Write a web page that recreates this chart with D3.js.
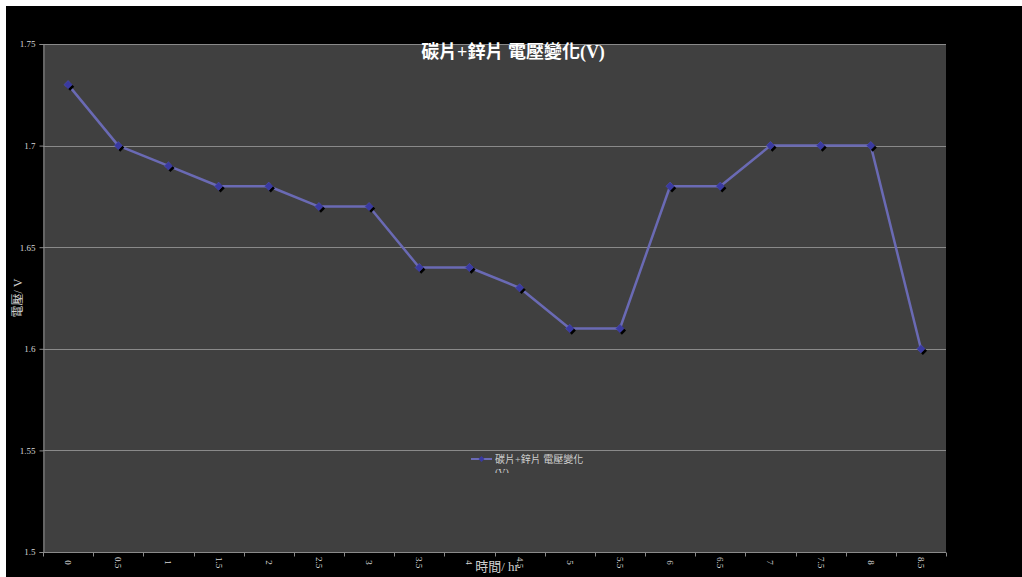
<!DOCTYPE html>
<html>
<head>
<meta charset="utf-8">
<script src="https://cdn.jsdelivr.net/npm/d3@7/dist/d3.min.js"></script>
<style>
  html, body { margin: 0; padding: 0; background: #ffffff; }
  svg { position: absolute; left: 6px; top: 6px; display: block; }
</style>
</head>
<body>
<script>
// Time (hours) and measured voltage of the carbon + zinc cell
const hours = ["0", "0.5", "1", "1.5", "2", "2.5", "3", "3.5", "4", "4.5",
               "5", "5.5", "6", "6.5", "7", "7.5", "8", "8.5"];
const voltage = [1.73, 1.70, 1.69, 1.68, 1.68, 1.67, 1.67, 1.64, 1.64, 1.63,
                 1.61, 1.61, 1.68, 1.68, 1.70, 1.70, 1.70, 1.60];
const yTicks = [1.5, 1.55, 1.6, 1.65, 1.7, 1.75];
const yTickLabels = ["1.5", "1.55", "1.6", "1.65", "1.7", "1.75"];

const titleText = "碳片+鋅片 電壓變化(V)";
const seriesName = "碳片+鋅片 電壓變化";
const seriesNameCont = "(V)";
const xTitle = "時間/ hr";
const yTitle = "電壓/ V";

const W = 1016, H = 571;
const ox = 6, oy = 6; // svg offset on the page
const plot = { left: 43 - ox, right: 946 - ox, top: 44 - oy, bottom: 552 - oy };

const serif = "'Liberation Serif', 'Times New Roman', 'Noto Sans CJK TC', serif";

const svg = d3.select("body").append("svg")
  .attr("width", W).attr("height", H);

svg.append("rect").attr("width", W).attr("height", H).attr("fill", "#000000");

const x = d3.scaleBand().domain(hours).range([plot.left, plot.right]).padding(0);
const y = d3.scaleLinear().domain([1.5, 1.75]).range([plot.bottom, plot.top]);

// plot area
svg.append("rect")
  .attr("x", plot.left).attr("y", plot.top)
  .attr("width", plot.right - plot.left).attr("height", plot.bottom - plot.top)
  .attr("fill", "#404040");

// horizontal gridlines
svg.append("g").selectAll("line").data(yTicks.slice(1)).join("line")
  .attr("x1", plot.left).attr("x2", plot.right)
  .attr("y1", d => Math.round(y(d)) + 0.5).attr("y2", d => Math.round(y(d)) + 0.5)
  .attr("stroke", "#8a8a8a").attr("stroke-width", 1);

// y axis
const yAxis = d3.axisLeft(y).tickValues(yTicks)
  .tickFormat((d, i) => yTickLabels[i]).tickSize(4).tickPadding(4);
const gy = svg.append("g").attr("transform", `translate(${plot.left + 0.5},0)`).call(yAxis);
gy.select(".domain").attr("stroke", "#8a8a8a");
gy.selectAll(".tick line").attr("stroke", "#8a8a8a");
gy.selectAll(".tick text").attr("fill", "#d8d8d8")
  .style("font-family", serif).style("font-size", "9px");

// x axis: ticks on band boundaries, labels rotated at band centres
const gx = svg.append("g").attr("transform", `translate(0,${plot.bottom + 0.5})`);
gx.append("line").attr("x1", plot.left).attr("x2", plot.right)
  .attr("stroke", "#8a8a8a");
const edges = hours.map(h => x(h)).concat([x(hours[hours.length - 1]) + x.bandwidth()]);
gx.selectAll("line.tk").data(edges).join("line").attr("class", "tk")
  .attr("x1", d => Math.round(d) + 0.5).attr("x2", d => Math.round(d) + 0.5)
  .attr("y1", 0).attr("y2", 4).attr("stroke", "#8a8a8a");
gx.selectAll("text").data(hours).join("text")
  .attr("transform", d => `translate(${x(d) + x.bandwidth() / 2 - 3},10) rotate(90)`)
  .attr("text-anchor", "middle")
  .attr("fill", "#d8d8d8")
  .style("font-family", serif).style("font-size", "9px")
  .text(d => d);

// series line
const pts = hours.map((h, i) => [x(h) + x.bandwidth() / 2, y(voltage[i])]);
svg.append("path")
  .attr("d", d3.line()(pts))
  .attr("fill", "none").attr("stroke", "#6a6ab4").attr("stroke-width", 2.5)
  .attr("stroke-linejoin", "round");

// diamond markers with a dark drop shadow
const diamond = d3.symbol().type(d3.symbolDiamond2).size(44);
svg.append("g").selectAll("path").data(pts).join("path")
  .attr("d", diamond)
  .attr("transform", d => `translate(${d[0] + 2},${d[1] + 2})`)
  .attr("fill", "#000000");
svg.append("g").selectAll("path").data(pts).join("path")
  .attr("d", diamond)
  .attr("transform", d => `translate(${d[0]},${d[1]})`)
  .attr("fill", "#3a3aa0").attr("stroke", "#5555bb").attr("stroke-width", 0.5);

// title
svg.append("text")
  .attr("x", 513 - ox).attr("y", 58 - oy)
  .attr("text-anchor", "middle")
  .attr("fill", "#ffffff").attr("font-weight", "bold")
  .style("font-family", serif).style("font-size", "18px")
  .text(titleText);

// axis titles
svg.append("text")
  .attr("transform", `translate(${22 - ox},${298 - oy}) rotate(-90)`)
  .attr("text-anchor", "middle")
  .attr("fill", "#d0d0d0")
  .style("font-family", serif).style("font-size", "12px")
  .text(yTitle);

svg.append("text")
  .attr("x", 497 - ox).attr("y", 571 - oy)
  .attr("text-anchor", "middle")
  .attr("fill", "#d0d0d0")
  .style("font-family", serif).style("font-size", "13px")
  .text(xTitle);

// legend (its box clips the wrapped second line)
svg.append("clipPath").attr("id", "legendClip")
  .append("rect").attr("x", 465 - ox).attr("y", 450 - oy).attr("width", 140).attr("height", 23);
const lg = svg.append("g").attr("clip-path", "url(#legendClip)");
const ly = 459 - oy;
lg.append("line").attr("x1", 471 - ox).attr("x2", 492 - ox).attr("y1", ly).attr("y2", ly)
  .attr("stroke", "#6a6ab4").attr("stroke-width", 2);
lg.append("path").attr("d", d3.symbol().type(d3.symbolDiamond2).size(22))
  .attr("transform", `translate(${481.5 - ox},${ly})`).attr("fill", "#3a3aa0");
lg.append("text").attr("x", 495 - ox).attr("y", ly + 3.5)
  .attr("fill", "#cfcfcf")
  .style("font-family", serif).style("font-size", "10px")
  .text(seriesName);
lg.append("text").attr("x", 495 - ox).attr("y", ly + 17)
  .attr("fill", "#cfcfcf")
  .style("font-family", serif).style("font-size", "10px")
  .text(seriesNameCont);
</script>
</body>
</html>
